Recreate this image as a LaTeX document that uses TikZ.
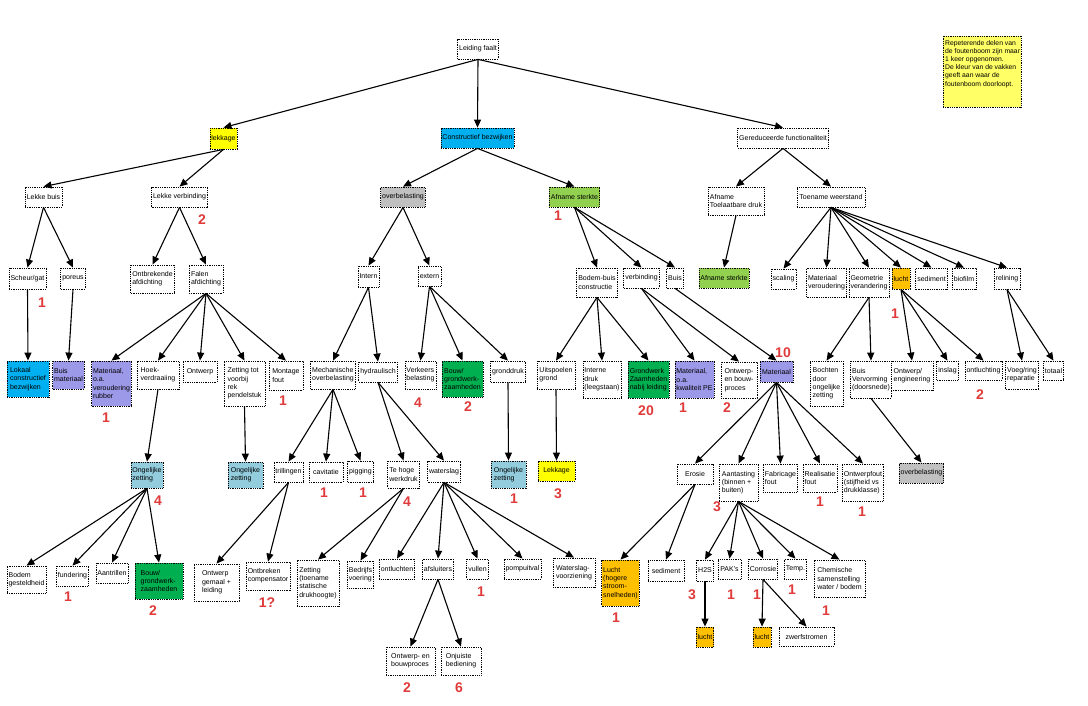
\documentclass[tikz,border=0pt]{standalone}
\usepackage{fontspec}
\setmainfont{Liberation Sans}
\usetikzlibrary{arrows.meta}
\definecolor{cyanb}{HTML}{00B0F0}
\definecolor{grayb}{HTML}{C0C0C0}
\definecolor{lgreen}{HTML}{92D050}
\definecolor{dgreen}{HTML}{00B050}
\definecolor{purp}{HTML}{9C99E8}
\definecolor{tealb}{HTML}{93CDDD}
\definecolor{orng}{HTML}{FFC000}
\definecolor{yel}{HTML}{FFFF00}
\definecolor{notey}{HTML}{FFFF66}
\definecolor{rednum}{HTML}{E03A3A}
\tikzset{
  bx/.style={draw=black, line width=0.8pt, dash pattern=on 0.9pt off 0.9pt, fill=white,
    align=left, inner xsep=1.5pt, inner ysep=1pt, font=\fontsize{7}{8.3}\selectfont},
  arr/.style={-{Triangle[length=8pt,width=7pt]}, line width=1.1pt},
  num/.style={text=rednum, font=\fontsize{14}{14}\selectfont\bfseries, inner sep=0pt}
}
\newcommand\Bx[7]{\node[bx,#6,minimum width={#3-#2},minimum height={#5-#4}] (#1) at ({(#2+#3)/2},{(#4+#5)/2}) {#7};}
\begin{document}
\begin{tikzpicture}[x=1pt,y=-1pt]
\fill[white] (0,0) rectangle (1088,706);
\useasboundingbox (0,0) rectangle (1088,706);
% level 0-1
\Bx{root}{458}{498}{39}{59}{}{Leiding faalt}
\Bx{lek}{210}{237}{128}{149}{fill=yel}{lekkage}
\Bx{cb}{441}{514}{128}{148}{fill=cyanb}{Constructief bezwijken}
\Bx{gf}{739}{827}{128}{148}{}{Gereduceerde functionaliteit}
% level 2
\Bx{lb}{25}{62}{187}{207}{}{Lekke buis}
\Bx{lv}{152}{207}{187}{207}{}{Lekke verbinding}
\Bx{ov}{381}{425}{187}{207}{fill=grayb}{overbelasting}
\Bx{as}{550}{599}{187}{207}{fill=lgreen}{Afname sterkte}
\Bx{atd}{708}{764}{187}{215}{}{Afname\\Toelaatbare druk}
\Bx{tw}{797}{865}{187}{207}{}{Toename weerstand}
% level 3
\Bx{sg}{9}{46}{268}{289}{}{Scheur/gat}
\Bx{por}{61}{85}{268}{289}{}{poreus}
\Bx{oa}{131}{174}{265}{293}{}{Ontbrekende\\afdichting}
\Bx{fa}{189}{223}{265}{293}{}{Falen\\afdichting}
\Bx{int}{358}{379}{266}{287}{}{Intern}
\Bx{ext}{418}{441}{266}{286}{}{extern}
\Bx{bbc}{577}{617}{268}{297}{}{Bodem-buis\\constructie}
\Bx{verb}{625}{658}{268}{288}{}{verbinding}
\Bx{buis}{667}{683}{268}{288}{}{Buis}
\Bx{as2}{699}{749}{268}{288}{fill=lgreen}{Afname sterkte}
\Bx{scal}{771}{796}{269}{289}{}{scaling}
\Bx{mv}{807}{846}{268}{297}{}{Materiaal\\veroudering}
\Bx{geo}{850}{888}{268}{297}{}{Geometrie\\verandering}
\Bx{lucht1}{892}{910}{268}{289}{fill=orng}{lucht}
\Bx{sed1}{916}{947}{268}{289}{}{sediment}
\Bx{bio}{952}{976}{268}{289}{}{biofilm}
\Bx{rel}{994}{1020}{268}{289}{}{relining}
% level 4
\Bx{lcb}{7}{49}{361}{397}{fill=cyanb}{Lokaal\\constructief\\bezwijken}
\Bx{bm}{53}{84}{361}{389}{fill=purp}{Buis\\materiaal}
\Bx{mr}{92}{131}{361}{406}{fill=purp}{Materiaal,\\o.a.\\veroudering\\rubber}
\Bx{hv}{137}{179}{361}{389}{}{Hoek-\\verdraaiing}
\Bx{ontw}{183}{217}{361}{382}{}{Ontwerp}
\Bx{ztv}{224}{265}{361}{406}{}{Zetting tot\\voorbij\\rek\\pendelstuk}
\Bx{mf}{269}{303}{361}{390}{}{Montage\\fout}
\Bx{mo}{311}{355}{361}{389}{}{Mechanische\\overbelasting}
\Bx{hyd}{359}{397}{362}{382}{}{hydraulisch}
\Bx{vb}{405}{436}{361}{389}{}{Verkeers\\belasting}
\Bx{bgz}{442}{483}{361}{397}{fill=dgreen}{Bouw/\\grondwerk-\\zaamheden}
\Bx{gd}{491}{525}{361}{382}{}{gronddruk}
\Bx{ug}{537}{575}{361}{389}{}{Uitspoelen\\grond}
\Bx{idr}{583}{621}{361}{398}{}{Interne\\druk\\(leegstaan)}
\Bx{gzn}{628}{669}{361}{398}{fill=dgreen}{Grondwerk\\Zaamheden\\nabij leiding}
\Bx{mpe}{675}{714}{361}{398}{fill=purp}{Materiaal,\\o.a.\\kwaliteit PE}
\Bx{obp}{721}{757}{362}{398}{}{Ontwerp-\\en bouw-\\proces}
\Bx{mat}{760}{793}{361}{382}{fill=purp}{Materiaal}
\Bx{boz}{810}{843}{361}{406}{}{Bochten\\door\\ongelijke\\zetting}
\Bx{bvv}{851}{891}{361}{398}{}{Buis\\Vervorming\\(doorsnede)}
\Bx{oe}{891}{933}{361}{390}{}{Ontwerp/\\engineering}
\Bx{ins}{937}{958}{361}{380}{}{inslag}
\Bx{ontl}{965}{1002}{361}{380}{}{ontluchting}
\Bx{vr}{1006}{1038}{361}{389}{}{Voeg/ring\\reparatie}
\Bx{tot}{1044}{1063}{361}{380}{}{totaal}
% level 5
\Bx{oz1}{131}{163}{462}{488}{fill=tealb}{Ongelijke\\zetting}
\Bx{oz2}{228}{263}{462}{488}{fill=tealb}{Ongelijke\\zetting}
\Bx{tril}{274}{303}{462}{482}{}{trillingen}
\Bx{cav}{309}{343}{462}{482}{}{cavitatie}
\Bx{pig}{348}{373}{461}{482}{}{pigging}
\Bx{thw}{388}{419}{461}{488}{}{Te hoge\\werkdruk}
\Bx{ws}{428}{460}{461}{482}{}{waterslag}
\Bx{oz3}{491}{526}{461}{488}{fill=tealb}{Ongelijke\\zetting}
\Bx{lek2}{538}{575}{461}{481}{fill=yel}{Lekkage}
\Bx{ero}{677}{713}{464}{484}{}{Erosie}
\Bx{aan}{719}{758}{464}{501}{}{Aantasting\\(binnen +\\buiten)}
\Bx{fab}{764}{797}{464}{492}{}{Fabricage\\fout}
\Bx{real}{803}{837}{464}{492}{}{Realisatie\\fout}
\Bx{ontf}{843}{883}{464}{501}{}{Ontwerpfout\\(stijfheid vs\\drukklasse)}
\Bx{ov2}{900}{943}{463}{483}{fill=grayb}{overbelasting}
% level 6
\Bx{bg}{7}{46}{566}{593}{}{Bodem\\gesteldheid}
\Bx{fund}{57}{88}{566}{586}{}{fundering}
\Bx{aant}{96}{128}{563}{583}{}{Aantrillen}
\Bx{bgz2}{135}{183}{563}{599}{fill=dgreen}{Bouw/\\grondwerk-\\zaamheden}
\Bx{ogl}{194}{239}{564}{601}{}{Ontwerp\\gemaal +\\leiding}
\Bx{oc}{246}{290}{562}{590}{}{Ontbreken\\compensator}
\Bx{zts}{297}{339}{560}{606}{}{Zetting\\(toename\\statische\\drukhoogte)}
\Bx{bv}{348}{373}{561}{588}{}{Bedrijfs\\voering}
\Bx{ontlu}{380}{414}{559}{579}{}{ontluchten}
\Bx{afs}{423}{453}{559}{579}{}{afsluiters}
\Bx{vul}{467}{488}{559}{579}{}{vullen}
\Bx{pomp}{504}{541}{559}{579}{}{pompuitval}
\Bx{wsv}{553}{595}{558}{587}{}{Waterslag-\\voorziening}
\Bx{lhs}{602}{639}{560}{606}{fill=orng}{Lucht\\(hogere\\stroom-\\snelheden)}
\Bx{sed2}{648}{684}{560}{581}{}{sediment}
\Bx{h2s}{697}{713}{560}{581}{}{H2S}
\Bx{pak}{718}{741}{559}{579}{}{PAK's}
\Bx{cor}{749}{777}{559}{579}{}{Corrosie}
\Bx{temp}{785}{806}{559}{579}{}{Temp.}
\Bx{chem}{814}{865}{560}{597}{}{Chemische\\samenstelling\\water / bodem}
% level 7
\Bx{l2}{697}{713}{627}{647}{fill=orng}{lucht}
\Bx{l3}{753}{771}{627}{647}{fill=orng}{lucht}
\Bx{zw}{779}{834}{627}{646}{}{zwerfstromen}
\Bx{obp2}{386}{435}{647}{675}{}{Ontwerp- en\\bouwproces}
\Bx{ob}{441}{481}{647}{675}{}{Onjuiste\\bediening}
% note
\Bx{note}{943}{1021}{36}{107}{fill=notey}{}
\node[anchor=north west, align=left, inner sep=0pt, font=\fontsize{6.8}{8.2}\selectfont] (notetext) at (945,40) {Repeterende delen van\\de foutenboom zijn maar\\1 keer opgenomen.\\De kleur van de vakken\\geeft aan waar de\\foutenboom doorloopt.};
% edges
\foreach \a/\b in {root/lek, root/cb, root/gf,
  lek/lb, lek/lv, lb/sg, lb/por, lv/oa, lv/fa, sg/lcb, por/bm,
  fa/mr, fa/hv, fa/ontw, fa/ztv, fa/mf, hv/oz1, ztv/oz2,
  oz1/bg, oz1/fund, oz1/aant, oz1/bgz2,
  cb/ov, cb/as, ov/int, ov/ext, int/mo, int/hyd, ext/vb, ext/bgz, ext/gd, gd/oz3,
  mo/tril, mo/cav, mo/pig, tril/ogl, tril/oc, hyd/thw, hyd/ws, thw/zts, thw/bv,
  ws/ontlu, ws/afs, ws/vul, ws/pomp, ws/wsv, afs/obp2, afs/ob,
  as/bbc, as/verb, as/buis, bbc/ug, bbc/idr, bbc/gzn, ug/lek2,
  verb/mpe, verb/obp, buis/mat,
  mat/ero, mat/aan, mat/fab, mat/real, mat/ontf,
  ero/lhs, ero/sed2, aan/h2s, aan/pak, aan/cor, aan/temp, aan/chem,
  h2s/l2, cor/l3, cor/zw,
  gf/atd, gf/tw, atd/as2,
  tw/scal, tw/mv, tw/geo, tw/lucht1, tw/sed1, tw/bio, tw/rel,
  geo/boz, geo/bvv, bvv/ov2, lucht1/oe, lucht1/ins, lucht1/ontl, rel/vr, rel/tot}
  {\draw[arr] (\a.south) -- (\b.north);}
% red numbers
\node[num] (n1) at (202,220) {2};
\node[num] (n2) at (558,216) {1};
\node[num] (n3) at (42,303) {1};
\node[num] (n4) at (106,418) {1};
\node[num] (n5) at (283,401) {1};
\node[num] (n6) at (418,403) {4};
\node[num] (n7) at (468,407) {2};
\node[num] (n8) at (646,411) {20};
\node[num] (n9) at (683,408) {1};
\node[num] (n10) at (727,408) {2};
\node[num] (n11) at (783,353) {10};
\node[num] (n12) at (895,314) {1};
\node[num] (n13) at (980,395) {2};
\node[num] (n14) at (158,501) {4};
\node[num] (n15) at (324,493) {1};
\node[num] (n16) at (363,493) {1};
\node[num] (n17) at (407,502) {4};
\node[num] (n18) at (514,499) {1};
\node[num] (n19) at (558,494) {3};
\node[num] (n20) at (717,507) {3};
\node[num] (n21) at (820,502) {1};
\node[num] (n22) at (862,512) {1};
\node[num] (n23) at (68,597) {1};
\node[num] (n24) at (153,611) {2};
\node[num] (n25) at (267,603) {1?};
\node[num] (n26) at (481,592) {1};
\node[num] (n27) at (616,618) {1};
\node[num] (n28) at (692,595) {3};
\node[num] (n29) at (731,595) {1};
\node[num] (n30) at (757,595) {1};
\node[num] (n31) at (792,590) {1};
\node[num] (n32) at (826,611) {1};
\node[num] (n33) at (407,688) {2};
\node[num] (n34) at (459,688) {6};
\end{tikzpicture}
\end{document}
